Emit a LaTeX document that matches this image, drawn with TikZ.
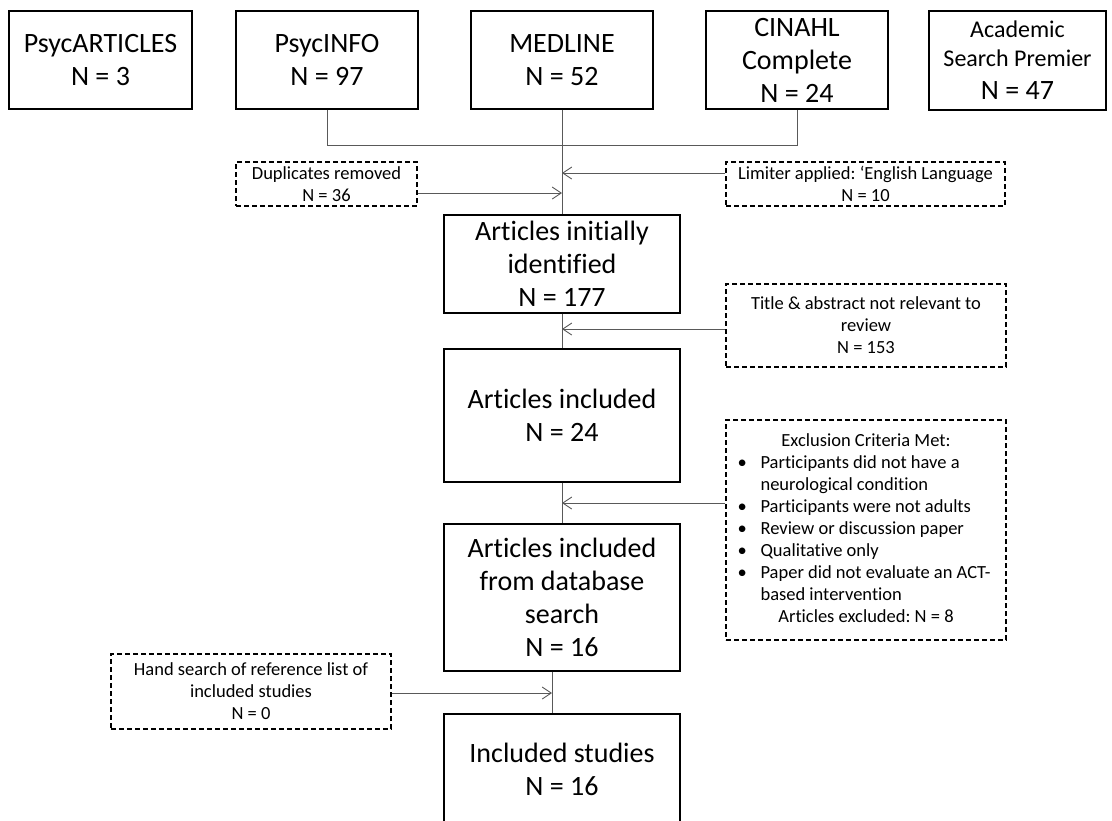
\documentclass[tikz,border=0pt]{standalone}
\usepackage{fontspec}
\setmainfont{Carlito}[Ligatures=NoCommon]
\frenchspacing
\usetikzlibrary{arrows.meta}

\begin{document}
\begin{tikzpicture}[x=1pt,y=-1pt,
  db/.style={draw=black, line width=1.4pt, align=center, inner sep=0pt,
    font=\fontsize{28}{33}\selectfont},
  note/.style={draw=black, line width=1.1pt, dash pattern=on 5pt off 3pt,
    align=center, inner sep=0pt, font=\fontsize{18.5}{22}\selectfont},
  link/.style={draw=black!65, line width=0.9pt},
  arr/.style={link, -{Straight Barb[length=9pt,width=12pt]}}]
  \useasboundingbox (0,0) rectangle (1112,820);

  \node [db, minimum width=183pt, minimum height=98pt] (psycart) at (100.5,60) {PsycARTICLES\\N = 3};
  \node [db, minimum width=182pt, minimum height=98pt] (psycinfo) at (327,60) {PsycINFO\\N = 97};
  \node [db, minimum width=182pt, minimum height=98pt] (medline) at (562,60) {MEDLINE\\N = 52};
  \node [db, minimum width=182pt, minimum height=98pt] (cinahl) at (797,60) {CINAHL\\Complete\\N = 24};
  \node [db, minimum width=177pt, minimum height=99pt] (asp) at (1017.5,60.5)
    {{\fontsize{24}{29}\selectfont Academic}\\[-4pt]{\fontsize{24}{29}\selectfont Search Premier}\\N = 47};

  \node [note, minimum width=181pt, minimum height=44pt] (dup) at (326.5,184) {Duplicates removed\\N = 36};
  \node [note, minimum width=279pt, minimum height=44pt] (lim) at (865.5,184) {Limiter applied: ‘English Language\\N = 10};

  \node [db, minimum width=236pt, minimum height=98pt] (init) at (562,264) {Articles initially\\identified\\N = 177};
  \node [note, minimum width=280pt, minimum height=83pt] (title) at (866,325.5) {Title \& abstract not relevant to\\review\\N = 153};
  \node [db, minimum width=236pt, minimum height=133pt] (incl) at (562,415.5) {Articles included\\N = 24};
  \node [note, minimum width=280pt, minimum height=220pt] (excl) at (866,530) {%
    \begin{tabular}{@{}p{19pt}@{}l@{}}
      \multicolumn{2}{c}{Exclusion Criteria Met:}\\
      \hspace*{-4pt}\textbullet & Participants did not have a\\
                  & neurological condition\\
      \hspace*{-4pt}\textbullet & Participants were not adults\\
      \hspace*{-4pt}\textbullet & Review or discussion paper\\
      \hspace*{-4pt}\textbullet & Qualitative only\\
      \hspace*{-4pt}\textbullet & Paper did not evaluate an ACT-\\
                  & based intervention\\
      \multicolumn{2}{c}{Articles excluded: N = 8}
    \end{tabular}};
  \node [db, minimum width=236pt, minimum height=147pt] (dbs) at (562,597.5) {Articles included\\from database\\search\\N = 16};
  \node [note, minimum width=280pt, minimum height=75pt] (hand) at (251,691.5) {Hand search of reference list of\\included studies\\N = 0};
  \node [db, minimum width=236pt, minimum height=111pt] (studies) at (562,769.5) {Included studies\\N = 16};

  \coordinate (join) at (562,145);
  \draw [link] (psycinfo.south) -- (psycinfo.south |- join) -- (cinahl.south |- join) -- (cinahl.south);
  \draw [link] (medline.south) -- (init.north);
  \draw [link] (init.south) -- (incl.north);
  \draw [link] (incl.south) -- (dbs.north);
  \draw [link] ([xshift=-10pt]dbs.south) coordinate (b1) -- (b1 |- studies.north);

  \draw [arr] ([yshift=-9pt]dup.east) coordinate (a1) -- (a1 -| init.north);
  \draw [arr] ([yshift=11pt]lim.west) coordinate (a2) -- (a2 -| init.north);
  \draw [arr] ([yshift=-3.5pt]title.west) coordinate (a3) -- (a3 -| init.north);
  \draw [arr] ([yshift=27pt]excl.west) coordinate (a4) -- (a4 -| init.north);
  \draw [arr] ([yshift=-1.5pt]hand.east) coordinate (a5) -- (a5 -| b1);
\end{tikzpicture}
\end{document}
